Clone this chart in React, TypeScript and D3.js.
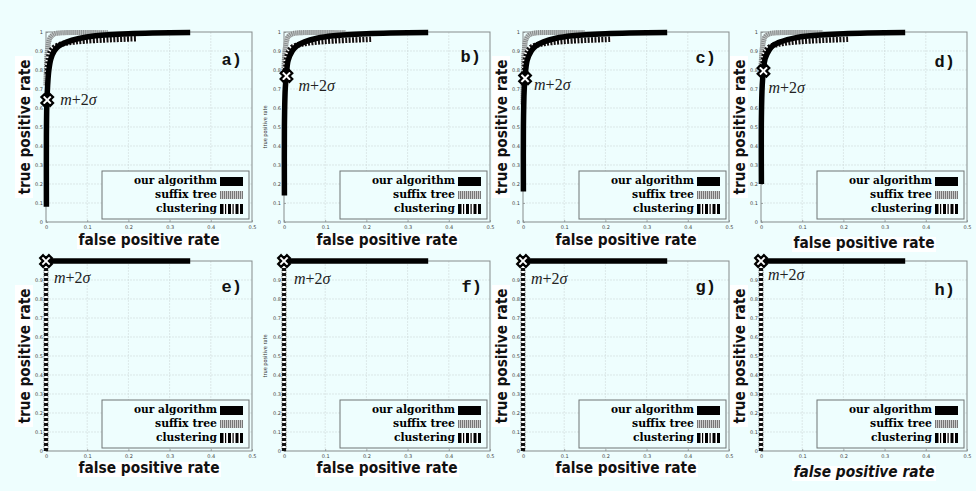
import React, { useEffect, useRef } from "react";
import * as d3 from "d3";

type Pt = [number, number];

const panelNames = ["a)", "b)", "c)", "d)", "e)", "f)", "g)", "h)"];
const fprTicks = [0, 0.1, 0.2, 0.3, 0.4, 0.5];
const tprTicks = [0, 0.1, 0.2, 0.3, 0.4, 0.5, 0.6, 0.7, 0.8, 0.9, 1];
const legendLabels = ["our algorithm", "suffix tree", "clustering"];

// top row (a-d): ROC curves
const ourA: Pt[] = [[0.001, 0.08], [0.001, 0.45], [0.002, 0.62], [0.004, 0.72], [0.007, 0.8], [0.012, 0.86], [0.02, 0.9], [0.03, 0.925], [0.05, 0.947], [0.08, 0.966], [0.12, 0.98], [0.2, 0.991], [0.35, 0.997]];
const ourB: Pt[] = [[0.001, 0.14], [0.001, 0.5], [0.003, 0.7], [0.006, 0.78], [0.01, 0.85], [0.02, 0.9], [0.03, 0.925], [0.05, 0.948], [0.08, 0.967], [0.12, 0.98], [0.2, 0.991], [0.35, 0.997]];
const ourC: Pt[] = [[0.001, 0.16], [0.001, 0.5], [0.003, 0.7], [0.005, 0.76], [0.01, 0.85], [0.02, 0.9], [0.03, 0.925], [0.05, 0.948], [0.08, 0.967], [0.12, 0.98], [0.2, 0.991], [0.35, 0.997]];
const ourD: Pt[] = [[0.001, 0.2], [0.001, 0.55], [0.003, 0.72], [0.006, 0.8], [0.01, 0.86], [0.02, 0.905], [0.03, 0.93], [0.05, 0.95], [0.08, 0.968], [0.12, 0.98], [0.2, 0.991], [0.35, 0.997]];

const suffixA: Pt[] = [[0, 0.72], [0.002, 0.86], [0.005, 0.93], [0.01, 0.97], [0.02, 0.99], [0.04, 0.996], [0.1, 0.997], [0.15, 0.996]];
const suffixB: Pt[] = [[0, 0.8], [0.002, 0.89], [0.005, 0.94], [0.01, 0.975], [0.02, 0.99], [0.04, 0.996], [0.1, 0.997], [0.15, 0.996]];
const suffixC: Pt[] = [[0, 0.62], [0.001, 0.8], [0.003, 0.9], [0.007, 0.96], [0.015, 0.985], [0.03, 0.995], [0.1, 0.997], [0.15, 0.996]];
const suffixD: Pt[] = [[0, 0.8], [0.002, 0.89], [0.005, 0.94], [0.01, 0.975], [0.02, 0.99], [0.04, 0.996], [0.1, 0.997], [0.15, 0.996]];

const clusterA: Pt[] = [[0.003, 0.78], [0.006, 0.86], [0.01, 0.895], [0.02, 0.92], [0.04, 0.938], [0.07, 0.948], [0.12, 0.956], [0.22, 0.965]];
const clusterB: Pt[] = [[0.004, 0.8], [0.007, 0.87], [0.012, 0.9], [0.02, 0.92], [0.04, 0.935], [0.07, 0.945], [0.12, 0.953], [0.215, 0.962]];
const clusterC: Pt[] = [[0.004, 0.8], [0.007, 0.87], [0.012, 0.9], [0.02, 0.92], [0.04, 0.935], [0.07, 0.945], [0.12, 0.953], [0.215, 0.962]];
const clusterD: Pt[] = [[0.004, 0.8], [0.007, 0.87], [0.012, 0.9], [0.02, 0.92], [0.04, 0.935], [0.07, 0.945], [0.12, 0.953], [0.215, 0.962]];

// bottom row (e-h)
const ourFlat: Pt[] = [[0, 1], [0.35, 1]];
const suffixFlat: Pt[] = [[0, 0], [0, 1]];
const clusterFlat: Pt[] = [[0, 0], [0, 1]];

const ourCurves = [ourA, ourB, ourC, ourD, ourFlat, ourFlat, ourFlat, ourFlat];
const suffixCurves = [suffixA, suffixB, suffixC, suffixD, suffixFlat, suffixFlat, suffixFlat, suffixFlat];
const clusterCurves = [clusterA, clusterB, clusterC, clusterD, clusterFlat, clusterFlat, clusterFlat, clusterFlat];

// m+2σ operating points
const thresholds: Pt[] = [[0.003, 0.642], [0.006, 0.768], [0.005, 0.756], [0.006, 0.795], [0, 1], [0, 1], [0, 1], [0, 1]];

const W = 976;
const H = 491;
const BG = "#eefefe";

export default function App() {
  const svgRef = useRef<SVGSVGElement>(null);

  useEffect(() => {
    if (!svgRef.current) return;
    const svg = d3.select(svgRef.current);
    svg.selectAll("*").remove();

    svg.append("rect").attr("width", W).attr("height", H).attr("fill", BG);

    const colX = [46, 284, 523, 761];
    const rowY = [32, 261];
    const pw = 206;
    const ph = 190;

    const x = d3.scaleLinear().domain([0, 0.5]).range([0, pw]);
    const y = d3.scaleLinear().domain([0, 1]).range([ph, 0]);
    const line = d3
      .line<Pt>()
      .x((d) => x(d[0]))
      .y((d) => y(d[1]))
      .curve(d3.curveCatmullRom.alpha(0.5));

    // per-panel tweaks (positions only)
    const markLabelOff: Pt[] = [[13, 0], [12, 10], [9, 7], [5, 17], [8, 17], [10, 18], [8, 18], [7, 14]];
    const letterOff: Pt[] = [[196, 33], [197, 30], [193, 31], [194, 35], [196, 31], [198, 31], [193, 31], [194, 34]];
    // baseline of the x title, relative to the panel top
    const xTitleBase = [213, 213, 213, 216, 212, 212, 212, 216];

    panelNames.forEach((name, i) => {
      const col = i % 4;
      const row = Math.floor(i / 4);
      const bottom = row === 1;
      const g = svg.append("g").attr("transform", `translate(${colX[col]},${rowY[row]})`);

      // grid
      g.selectAll(".gx")
        .data(fprTicks.slice(1, -1))
        .enter()
        .append("line")
        .attr("x1", (d) => x(d))
        .attr("x2", (d) => x(d))
        .attr("y1", 0)
        .attr("y2", ph)
        .attr("stroke", "#cfd9d9")
        .attr("stroke-width", 0.6)
        .attr("stroke-dasharray", "2 1");
      g.selectAll(".gy")
        .data(tprTicks.slice(1, -1))
        .enter()
        .append("line")
        .attr("x1", 0)
        .attr("x2", pw)
        .attr("y1", (d) => y(d))
        .attr("y2", (d) => y(d))
        .attr("stroke", "#cfd9d9")
        .attr("stroke-width", 0.6)
        .attr("stroke-dasharray", "2 1");

      // axes
      const ax = g
        .append("g")
        .attr("transform", `translate(0,${ph})`)
        .call(d3.axisBottom(x).tickValues(fprTicks).tickSize(-2).tickPadding(3).tickFormat((d) => String(d)));
      const ay = g
        .append("g")
        .call(d3.axisLeft(y).tickValues(tprTicks).tickSize(-2).tickPadding(3).tickFormat((d) => String(d)));
      [ax, ay].forEach((a) => {
        a.select(".domain").remove();
        a.selectAll("line").attr("stroke", "#777").attr("stroke-width", 0.6);
        a.selectAll("text").style("font-size", "5px").style("font-family", "DejaVu Sans").attr("fill", "#444");
      });

      g.append("rect")
        .attr("width", pw)
        .attr("height", ph)
        .attr("fill", "none")
        .attr("stroke", "#858b8b")
        .attr("stroke-width", 1);

      // suffix tree (gray stripes)
      g.append("path")
        .attr("d", line(suffixCurves[i]))
        .attr("fill", "none")
        .attr("stroke", "#c4c8c8")
        .attr("stroke-width", 5);
      g.append("path")
        .attr("d", line(suffixCurves[i]))
        .attr("fill", "none")
        .attr("stroke", "#858a8a")
        .attr("stroke-width", 5)
        .attr("stroke-dasharray", "1 1");

      // clustering (black/white barcode)
      g.append("path")
        .attr("d", line(clusterCurves[i]))
        .attr("fill", "none")
        .attr("stroke", "#ffffff")
        .attr("stroke-width", bottom ? 3 : 5);
      g.append("path")
        .attr("d", line(clusterCurves[i]))
        .attr("fill", "none")
        .attr("stroke", "#111")
        .attr("stroke-width", bottom ? 4 : 5.5)
        .attr("stroke-dasharray", bottom ? "3 2" : "2 1.4");

      // our algorithm
      g.append("path")
        .attr("d", line(ourCurves[i]))
        .attr("fill", "none")
        .attr("stroke", "#000")
        .attr("stroke-width", 5.5);

      // threshold marker
      const [tx, ty] = thresholds[i];
      g.append("path")
        .attr("d", d3.symbol().type(d3.symbolCross).size(85)())
        .attr("transform", `translate(${x(tx)},${y(ty)}) rotate(45)`)
        .attr("fill", "#fff")
        .attr("stroke", "#000")
        .attr("stroke-width", 2.2);
      const ml = g
        .append("text")
        .attr("x", x(tx) + markLabelOff[i][0])
        .attr("y", y(ty) + markLabelOff[i][1] + 5)
        .style("font-family", "Liberation Serif")
        .style("font-size", "16px")
        .attr("fill", "#222");
      ml.append("tspan").style("font-style", "italic").text("m");
      ml.append("tspan").text("+2");
      ml.append("tspan").style("font-style", "italic").text("σ");

      // panel letter
      g.append("text")
        .attr("x", letterOff[i][0])
        .attr("y", letterOff[i][1])
        .attr("text-anchor", "end")
        .style("font-family", "Liberation Mono")
        .style("font-weight", "bold")
        .style("font-size", "17px")
        .attr("fill", "#111")
        .text(name);

      // legend
      const lg = g.append("g").attr("transform", `translate(56,${ph - 51})`);
      lg.append("rect")
        .attr("width", 147)
        .attr("height", 48)
        .attr("fill", BG)
        .attr("stroke", "#6f7575")
        .attr("stroke-width", 1);
      const textLens = [83, 62, 61];
      const rowCy = [8.5, 22.5, 37];
      legendLabels.forEach((lab, k) => {
        lg.append("text")
          .attr("x", 115)
          .attr("y", rowCy[k] + 4)
          .attr("text-anchor", "end")
          .attr("textLength", textLens[k])
          .attr("lengthAdjust", "spacingAndGlyphs")
          .style("font-family", "DejaVu Serif")
          .style("font-weight", "bold")
          .style("font-size", "11px")
          .attr("fill", "#000")
          .text(lab);
      });
      lg.append("rect").attr("x", 118).attr("y", 6).attr("width", 23).attr("height", 9).attr("fill", "#000");
      lg.append("rect").attr("x", 118).attr("y", 20).attr("width", 23).attr("height", 8).attr("fill", "#ccc");
      lg.selectAll(".stripe")
        .data(d3.range(0, 23, 2))
        .enter()
        .append("rect")
        .attr("x", (d) => 118 + d)
        .attr("y", 20)
        .attr("width", 1)
        .attr("height", 8)
        .attr("fill", "#777");
      const bars: Pt[] = [[0, 3.5], [5, 1.2], [8, 3], [12.5, 1.2], [15.5, 3], [20, 3]];
      lg.append("rect").attr("x", 118).attr("y", 33).attr("width", 23).attr("height", 10).attr("fill", "#fff");
      lg.selectAll(".bar")
        .data(bars)
        .enter()
        .append("rect")
        .attr("x", (d) => 118 + d[0])
        .attr("y", 33)
        .attr("width", (d) => d[1])
        .attr("height", 10)
        .attr("fill", "#000");

      // axis titles
      if (col === 1) {
        g.append("text")
          .attr("transform", `translate(${-17},${ph / 2}) rotate(-90)`)
          .attr("text-anchor", "middle")
          .attr("textLength", 43)
          .attr("lengthAdjust", "spacingAndGlyphs")
          .style("font-family", "DejaVu Sans")
          .style("font-size", "5.5px")
          .attr("fill", "#333")
          .text("true positive rate");
      } else {
        g.append("rect")
          .attr("x", -31)
          .attr("y", ph / 2 - 71)
          .attr("width", 18)
          .attr("height", 142)
          .attr("fill", "#fff");
        g.append("text")
          .attr("transform", `translate(${-16},${ph / 2}) rotate(-90)`)
          .attr("text-anchor", "middle")
          .attr("textLength", 135)
          .attr("lengthAdjust", "spacingAndGlyphs")
          .style("font-family", "DejaVu Sans")
          .style("font-weight", "bold")
          .style("font-size", "16px")
          .attr("fill", "#111")
          .text("true positive rate");
      }

      const xb = xTitleBase[i];
      g.append("rect")
        .attr("x", pw / 2 - 72)
        .attr("y", xb - 11)
        .attr("width", 144)
        .attr("height", 15)
        .attr("fill", "#fff");
      g.append("text")
        .attr("x", pw / 2)
        .attr("y", xb)
        .attr("text-anchor", "middle")
        .attr("textLength", 141)
        .attr("lengthAdjust", "spacingAndGlyphs")
        .style("font-family", bottom ? "DejaVu Sans Condensed, DejaVu Sans" : "DejaVu Sans")
        .style("font-weight", "bold")
        .style("font-style", i === 7 ? "italic" : "normal")
        .style("font-size", "15px")
        .attr("fill", "#111")
        .text("false positive rate");
    });
  }, []);

  return (
    <div style={{ position: "absolute", left: 0, top: 0, width: W, height: H }}>
      <svg ref={svgRef} width={W} height={H} style={{ display: "block" }} />
    </div>
  );
}
